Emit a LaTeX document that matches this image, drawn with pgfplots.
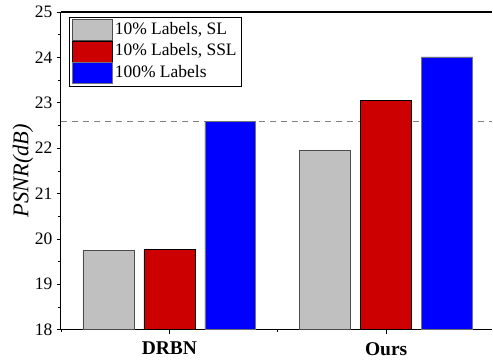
\documentclass[border=0pt]{standalone}
\usepackage{pgfplots}
\pgfplotsset{compat=1.18}
\usepackage{fontspec}
\setmainfont{Liberation Serif}
\definecolor{cgray}{HTML}{C0C0C0}
\definecolor{cred}{HTML}{CC0000}
\definecolor{cblue}{HTML}{0000FF}
\begin{document}
\begin{tikzpicture}
\begin{axis}[
  scale only axis,
  width=432pt, height=318pt,
  xmin=-0.5, xmax=1.49,
  ymin=18, ymax=25,
  axis lines*=left,
  axis line style={line width=1.1pt},
  tick align=outside,
  major tick length=4pt,
  minor tick length=2.5pt,
  every tick/.style={black, line width=0.6pt},
  xtick={0,1},
  xticklabels={\textbf{DRBN},\textbf{Ours}},
  minor xtick={-0.5,0.5},
  ytick={18,19,20,21,22,23,24,25},
  minor ytick={18.5,19.5,20.5,21.5,22.5,23.5,24.5},
  /pgf/number format/assume math mode=true,
  yticklabel style={font=\fontsize{17.5}{19}\selectfont, xshift=-1pt},
  xticklabel style={font=\fontsize{19.5}{21}\selectfont, yshift=-5pt},
  ylabel={\textit{PSNR(dB)}},
  ylabel style={font=\fontsize{22.5}{24}\selectfont, at={([xshift=-38pt]rel axis cs:0,0.5)}, anchor=center},
  legend style={at={(rel axis cs:0,1)}, anchor=north west, xshift=8pt, yshift=-5pt,
    font=\fontsize{17.5}{19}\selectfont, draw=black, line width=0.7pt,
    inner xsep=3pt, inner ysep=2pt, row sep=0pt,
    nodes={inner xsep=2pt, inner ysep=0pt, text height=12pt, text depth=4pt}},
  legend cell align=left,
  legend image code/.code={\draw[#1, line width=0.6pt] (0pt,-10.5pt) rectangle (40pt,10.5pt);},
]
\addplot[gray, dashed, line width=0.8pt, dash pattern=on 6pt off 5pt, forget plot] coordinates {(-0.5,22.59) (1.49,22.59)};
\addplot[ybar, bar width=0.235, fill=cgray, draw=black!70, line width=0.6pt] coordinates {(-0.281,19.74) (0.719,21.95)};
\addplot[ybar, bar width=0.235, fill=cred, draw=black, line width=0.6pt] coordinates {(0,19.76) (1,23.05)};
\addplot[ybar, bar width=0.235, fill=cblue, draw=black!55, line width=0.6pt] coordinates {(0.281,22.59) (1.281,24.01)};
\legend{{10\% Labels, SL},{10\% Labels, SSL},{100\% Labels}}
\draw[line width=1.1pt] (rel axis cs:0,1) -- (rel axis cs:1,1);
\end{axis}
\path (-61pt,-30pt) rectangle (432pt,330pt);
\end{tikzpicture}
\end{document}
